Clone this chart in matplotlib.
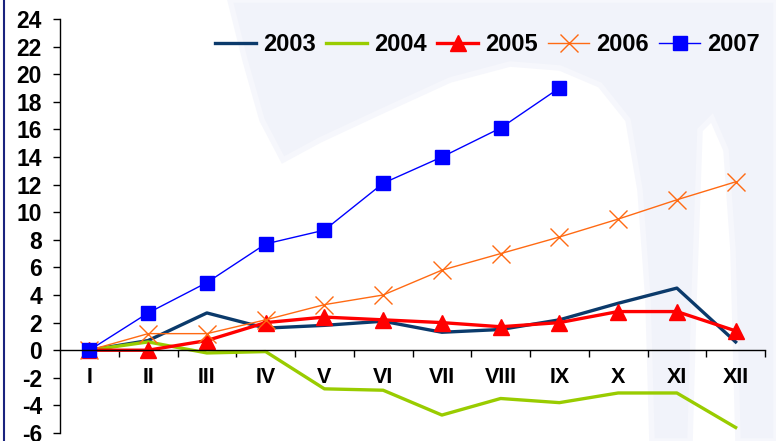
import numpy as np
import matplotlib
matplotlib.use('Agg')
import matplotlib.pyplot as plt
from matplotlib.lines import Line2D
from matplotlib.patches import Polygon

plt.rcParams['font.family'] = ['Liberation Sans', 'DejaVu Sans']
plt.rcParams['font.weight'] = 'bold'
plt.rcParams['axes.unicode_minus'] = False

months = ['I', 'II', 'III', 'IV', 'V', 'VI', 'VII', 'VIII', 'IX', 'X', 'XI', 'XII']

y2003 = [0, 0.7, 2.7, 1.6, 1.8, 2.1, 1.3, 1.5, 2.2, 3.4, 4.5, 0.6]
y2004 = [0, 0.6, -0.2, -0.1, -2.8, -2.9, -4.7, -3.5, -3.8, -3.1, -3.1, -5.6]
y2005 = [0, 0, 0.7, 2.0, 2.4, 2.2, 2.0, 1.7, 2.0, 2.8, 2.8, 1.4]
y2006 = [0, 1.2, 1.2, 2.2, 3.3, 4.0, 5.8, 7.0, 8.2, 9.5, 10.9, 12.2]
y2007 = [0, 2.7, 4.9, 7.7, 8.7, 12.1, 14.0, 16.1, 19.0]

W, H = 776, 441
fig = plt.figure(figsize=(W / 100, H / 100), dpi=100)

# faint logo shape in the background (pixel coords, origin top-left)
logo = [(230, 0), (776, 0), (776, 441), (738, 441), (733, 250), (726, 150),
        (712, 118), (700, 130), (694, 300), (690, 441), (652, 441), (648, 300),
        (640, 190), (628, 120), (600, 85), (560, 68), (510, 64), (450, 80),
        (380, 112), (320, 140), (283, 160), (262, 120), (245, 60)]
fig.add_artist(Polygon([(px / W, 1 - py / H) for px, py in logo], closed=True,
                       facecolor='#f1f3fa', edgecolor='#f6f7fc', lw=4,
                       zorder=0, transform=fig.transFigure))

ax = fig.add_axes([60 / W, 8 / H, 705 / W, 414 / H])
ax.patch.set_alpha(0)

x = np.arange(len(months))

ax.plot(x, y2003, color='#0b3a6b', lw=2.4, label='2003')
ax.plot(x, y2004, color='#99cc00', lw=2.4, label='2004')
ax.plot(x, y2005, color='#ff0000', lw=2.4, marker='^', ms=11, label='2005')
ax.plot(x, y2006, color='#ff6a13', lw=1, marker='x', ms=13, mew=1, label='2006')
ax.plot(x[:len(y2007)], y2007, color='#0000ff', lw=1, marker='s', ms=10, label='2007')

ax.set_xlim(-0.5, 11.5)
ax.set_ylim(-6, 24)
ax.set_yticks(np.arange(-6, 25, 2))
ax.set_xticks(x)
ax.set_xticklabels(months)
ax.set_xticks(np.arange(0.5, 12, 1), minor=True)

ax.spines['top'].set_visible(False)
ax.spines['right'].set_visible(False)
ax.spines['bottom'].set_position(('data', 0))
for s in ('left', 'bottom'):
    ax.spines[s].set_linewidth(1)
    ax.spines[s].set_color('black')

ax.tick_params(axis='x', which='major', length=0, pad=12, labelsize=15.5)
ax.tick_params(axis='x', which='minor', length=5, direction='out', width=1)
ax.tick_params(axis='y', length=5, direction='out', width=1, pad=8, labelsize=16.5)

ax.legend(loc='upper right', bbox_to_anchor=(1.012, 1.0), ncol=5, frameon=False,
          fontsize=17, handlelength=1.75, handletextpad=0.27, columnspacing=0.45,
          borderaxespad=0.2)

# frame line on the left edge
fig.add_artist(Line2D([4 / W, 4 / W], [0, 1], color='#1a237e', lw=1.5,
                      transform=fig.transFigure))

fig.savefig('out.png', dpi=100)
